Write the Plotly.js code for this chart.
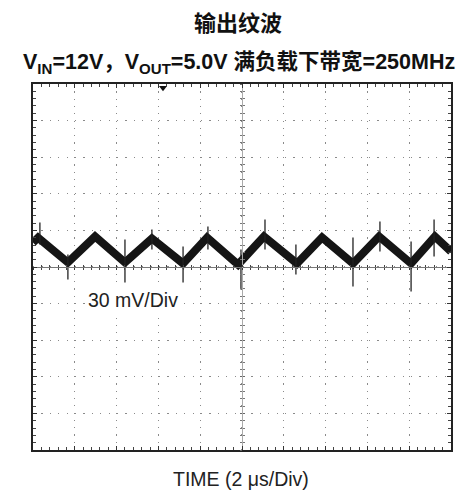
<!DOCTYPE html>
<html>
<head>
<meta charset="utf-8">
<script src="https://cdn.plot.ly/plotly-3.0.1.min.js"></script>
<style>html,body{margin:0;padding:0;background:#fff;}#chart{width:476px;height:495px;}</style>
</head>
<body>
<div id="chart"></div>
<script>
// Ripple waveform vertices (time in µs, ripple in mV relative to centre line)
const timeUs   = [0, 0.24, 1.67, 2.97, 4.40, 5.69, 7.18, 8.33, 9.81, 11.05, 12.63, 13.83, 15.31, 16.56, 18.09, 19.23, 20.0];
const rippleMv = [20, 24, 3.7, 25, 3.7, 23.4, 2.9, 24.2, 2.0, 25, 2.9, 24.2, 2.9, 25, 2.9, 25, 12.7];

// Switching spikes
const spikeUs    = [0.33, 1.67, 4.40, 5.69, 7.18, 8.37, 9.95, 11.1, 12.58, 15.31, 16.6, 18.09, 19.19];
const spikeTopMv = [36.5, 10.2, 22.5, 30.7, 16.8, 33.2, 14.3, 38.9, 18.4, 24.2, 37.3, 20.9, 38.9];
const spikeBotMv = [18.4, -10.2, -12.7, 14.3, -12.7, 14.3, -18.4, 14.3, -6.1, -16, 12.7, -20.1, 8.6];

// Scope markers
const groundMarkerUs = [-0.08], groundMarkerMv = [11];
const triggerUs = [6.22], triggerMv = [147];

const titleLine1 = "输出纹波";
const titleLine2 = "V<sub>IN</sub>=12V，V<sub>OUT</sub>=5.0V 满负载下带宽=250MHz";
const xLabel = "TIME (2 μs/Div)";
const yLabel = "30 mV/Div";

const sx = [], sy = [];
spikeUs.forEach((t, i) => { sx.push(t, t, null); sy.push(spikeTopMv[i], spikeBotMv[i], null); });

const font = "Liberation Sans, Arial, Noto Sans CJK SC, sans-serif";

const traces = [
  {x: timeUs, y: rippleMv, mode: 'lines', line: {color: '#151515', width: 8}, hoverinfo: 'skip'},
  {x: sx, y: sy, mode: 'lines', line: {color: '#222', width: 1.3}, hoverinfo: 'skip'},
  {x: groundMarkerUs, y: groundMarkerMv, mode: 'markers', marker: {symbol: 'circle', size: 11, color: '#111'}, cliponaxis: false},
  {x: triggerUs, y: triggerMv, mode: 'markers', marker: {symbol: 'triangle-down', size: 7, color: '#111'}, cliponaxis: false}
];

const axisCommon = {
  showline: true, linecolor: '#222', linewidth: 2, mirror: 'ticks',
  ticks: 'inside', ticklen: 4, tickcolor: '#333', tickwidth: 1,
  showticklabels: false, zeroline: false,
  showgrid: true, gridcolor: '#8a8a8a', gridwidth: 1.2,
  minor: {ticks: 'inside', ticklen: 3, tickcolor: '#444', showgrid: false}
};

const layout = {
  width: 476, height: 495,
  margin: {l: 33, r: 25, t: 84, b: 45},
  paper_bgcolor: '#fff', plot_bgcolor: '#fff',
  showlegend: false,
  xaxis: Object.assign({}, axisCommon, {range: [0, 20], dtick: 2, tick0: 0, griddash: '1.2px,6.1px', minor: Object.assign({}, axisCommon.minor, {dtick: 0.4})}),
  yaxis: Object.assign({}, axisCommon, {range: [-150, 150], dtick: 30, tick0: 0, griddash: '1.2px,7.2px', minor: Object.assign({}, axisCommon.minor, {dtick: 6})}),
  xaxis2: {overlaying: 'x', matches: 'x', anchor: 'free', position: 0.5, showline: true, linecolor: '#777', linewidth: 1,
           ticks: 'outside', ticklen: 2, tickcolor: '#333', showticklabels: false, showgrid: false, zeroline: false, dtick: 2,
           minor: {ticks: 'outside', ticklen: 2, dtick: 0.4, tickcolor: '#444'}},
  xaxis3: {overlaying: 'x', matches: 'x', anchor: 'free', position: 0.5, showline: false,
           ticks: 'inside', ticklen: 2, tickcolor: '#333', showticklabels: false, showgrid: false, zeroline: false, dtick: 2,
           minor: {ticks: 'inside', ticklen: 2, dtick: 0.4, tickcolor: '#444'}},
  yaxis2: {overlaying: 'y', matches: 'y', anchor: 'free', position: 0.5, showline: true, linecolor: '#aaa', linewidth: 1,
           ticks: 'outside', ticklen: 2, tickcolor: '#666', showticklabels: false, showgrid: false, zeroline: false, dtick: 30,
           minor: {ticks: 'outside', ticklen: 2, dtick: 6, tickcolor: '#777'}},
  yaxis3: {overlaying: 'y', matches: 'y', anchor: 'free', position: 0.5, showline: false,
           ticks: 'inside', ticklen: 2, tickcolor: '#666', showticklabels: false, showgrid: false, zeroline: false, dtick: 30,
           minor: {ticks: 'inside', ticklen: 2, dtick: 6, tickcolor: '#777'}},
  annotations: [
    {text: '<b>' + titleLine1 + '</b>', xref: 'paper', yref: 'paper', x: 0.49, y: 1.165, xanchor: 'center', yanchor: 'middle',
     showarrow: false, font: {family: font, size: 22, color: '#111'}},
    {text: '<b>' + titleLine2 + '</b>', xref: 'paper', yref: 'paper', x: 0.494, y: 1.058, xanchor: 'center', yanchor: 'middle',
     showarrow: false, font: {family: font, size: 21.5, color: '#111'}},
    {text: yLabel, xref: 'paper', yref: 'paper', x: 0.239, y: 0.411, xanchor: 'center', yanchor: 'middle',
     showarrow: false, bgcolor: '#fff', font: {family: font, size: 19.5, color: '#222'}},
    {text: xLabel, xref: 'paper', yref: 'paper', x: 0.497, y: -0.078, xanchor: 'center', yanchor: 'middle',
     showarrow: false, font: {family: font, size: 19.5, color: '#222'}}
  ]
};

// attach invisible traces to overlay axes so they render
traces.push({x: [null], y: [null], xaxis: 'x2', yaxis: 'y2', mode: 'lines', hoverinfo: 'skip'});
traces.push({x: [null], y: [null], xaxis: 'x3', yaxis: 'y3', mode: 'lines', hoverinfo: 'skip'});

Plotly.newPlot('chart', traces, layout, {staticPlot: true, displayModeBar: false});
</script>
</body>
</html>
